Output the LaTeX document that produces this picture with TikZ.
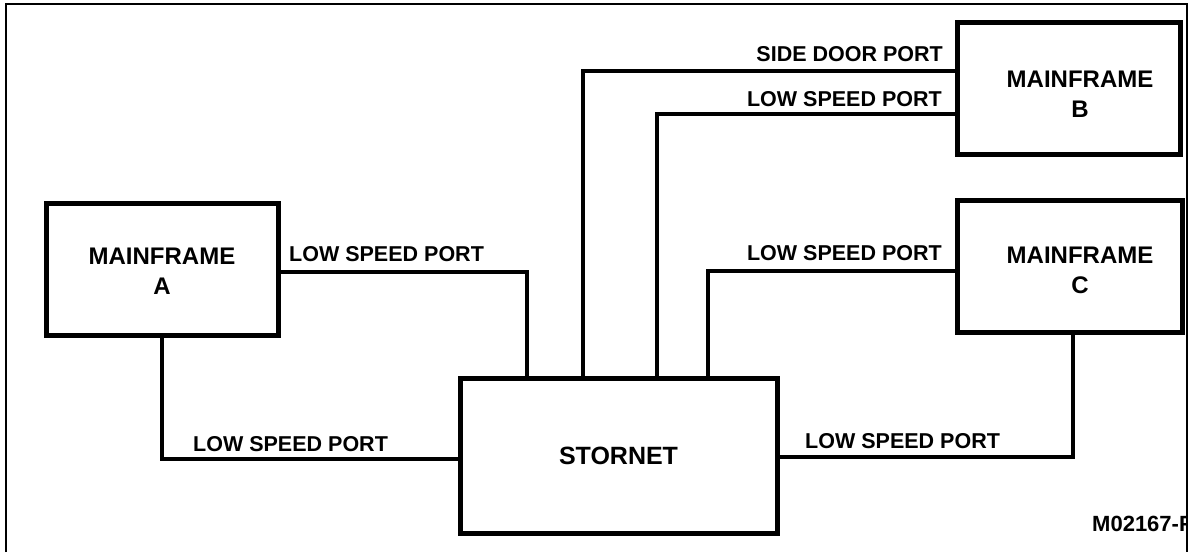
\documentclass[tikz,border=0pt]{standalone}
\usepackage{fontspec}
\setmainfont{Liberation Sans}
\begin{document}
\begin{tikzpicture}[x=1pt,y=-1pt,
  box/.style={draw, line width=5pt, rectangle, inner sep=0pt},
  conn/.style={draw, line width=3.5pt, line join=miter},
  lbl/.style={inner sep=0pt, font=\bfseries\fontsize{21.5}{26}\selectfont},
  mtext/.style={inner sep=0pt, align=center, font=\bfseries\fontsize{24}{30}\selectfont}]
\useasboundingbox (0,0) rectangle (1191,552);
% outer frame
\draw[line width=2.5pt] (6,552) -- (6,4) -- (1187,4) -- (1187,552);
% boxes
\node[box, minimum width=232pt, minimum height=132pt] (A) at (162,269) {};
\node[mtext] (At) at (162,271) {MAINFRAME\\A};
\node[box, minimum width=317pt, minimum height=155pt,
      font=\bfseries\fontsize{25}{30}\selectfont] (S) at (618.5,455.5) {STORNET};
\node[box, minimum width=223pt, minimum height=132pt] (B) at (1068.5,88) {};
\node[mtext] (Bt) at (1080,94) {MAINFRAME\\B};
\node[box, minimum width=225pt, minimum height=132pt] (C) at (1069.5,266) {};
\node[mtext] (Ct) at (1080,270) {MAINFRAME\\C};
% corner coordinates
\coordinate (a1) at (527,272);
\coordinate (a2) at (162,459);
\coordinate (b1) at (583,71);
\coordinate (b2) at (657,114);
\coordinate (c1) at (708,271);
\coordinate (c2) at (1073,457);
% connectors
\draw[conn] (A.east |- a1) -- (a1) -- (S.north -| a1);
\draw[conn] (A.south -| a2) -- (a2) -- (S.west |- a2);
\draw[conn] (B.west |- b1) -- (b1) -- (S.north -| b1);
\draw[conn] (B.west |- b2) -- (b2) -- (S.north -| b2);
\draw[conn] (C.west |- c1) -- (c1) -- (S.north -| c1);
\draw[conn] (C.south -| c2) -- (c2) -- (S.east |- c2);
% labels
\node[lbl, anchor=base west] (l1) at (289,261) {LOW SPEED PORT};
\node[lbl, anchor=base west] (l2) at (193,451) {LOW SPEED PORT};
\node[lbl, anchor=base east] (l3) at (943,61) {SIDE DOOR PORT};
\node[lbl, anchor=base east] (l4) at (942,106) {LOW SPEED PORT};
\node[lbl, anchor=base east] (l5) at (942,260) {LOW SPEED PORT};
\node[lbl, anchor=base west] (l6) at (805,448) {LOW SPEED PORT};
\begin{scope}
\clip (0,0) rectangle (1186,552);
\node[inner sep=0pt, anchor=base west, font=\bfseries\fontsize{22}{26}\selectfont] (id) at (1092,531) {M02167-F};
\end{scope}
\end{tikzpicture}
\end{document}
